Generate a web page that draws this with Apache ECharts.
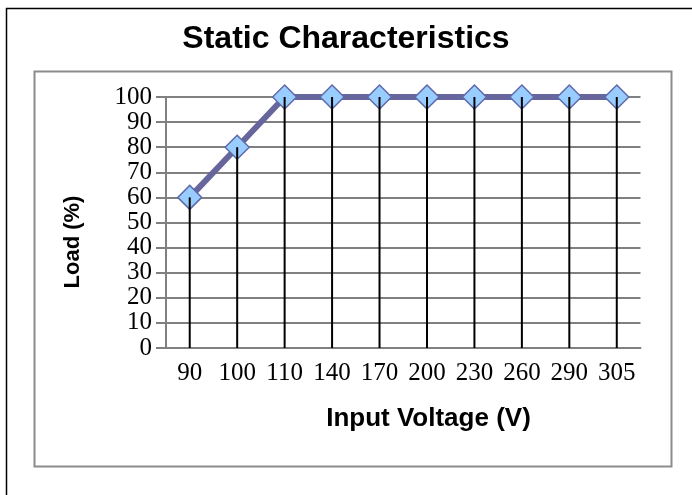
<!DOCTYPE html>
<html>
<head>
<meta charset="utf-8">
<script src="https://cdn.jsdelivr.net/npm/echarts@6/dist/echarts.min.js"></script>
<style>html,body{margin:0;padding:0;background:#fff;}#c{width:692px;height:495px;}</style>
</head>
<body>
<div id="c"></div>
<script>
var categories = ['90','100','110','140','170','200','230','260','290','305'];
var loadValues = [60, 80, 100, 100, 100, 100, 100, 100, 100, 100];
var titleText = 'Static Characteristics';
var xName = 'Input Voltage (V)';
var yName = 'Load (%)';

var chart = echarts.init(document.getElementById('c'), null, {renderer: 'canvas'});
chart.setOption({
  animation: false,
  backgroundColor: '#fff',
  title: {
    text: titleText, left: 'center', top: 18,
    textStyle: {fontFamily: 'Liberation Sans', fontWeight: 'bold', fontSize: 32, color: '#000'}
  },
  graphic: [
    {type: 'rect', left: 4, top: 6, shape: {x: 0, y: 0, width: 720, height: 520},
     style: {fill: null, stroke: '#000', lineWidth: 1.5}, silent: true},
    {type: 'rect', left: 32, top: 69, shape: {x: 0, y: 0, width: 637, height: 395},
     style: {fill: null, stroke: '#8c8c8c', lineWidth: 2}, silent: true},
    {type: 'text', x: 428.5, y: 419, silent: true,
     style: {text: xName, fontFamily: 'Liberation Sans', fontWeight: 'bold', fontSize: 26,
             fill: '#000', align: 'center', verticalAlign: 'middle'}},
    {type: 'text', x: 73, y: 242, rotation: Math.PI / 2, silent: true,
     style: {text: yName, fontFamily: 'Liberation Sans', fontWeight: 'bold', fontSize: 22,
             fill: '#000', align: 'center', verticalAlign: 'middle'}}
  ],
  grid: {left: 166, right: 51.5, top: 97, bottom: 147, containLabel: false},
  xAxis: {
    type: 'category', data: categories, boundaryGap: true,
    axisLine: {lineStyle: {color: '#808080', width: 2}},
    axisTick: {show: false},
    axisLabel: {interval: 0, hideOverlap: false, fontFamily: 'Liberation Serif', fontSize: 25, color: '#000', margin: 13},
    splitLine: {show: false}
  },
  yAxis: {
    type: 'value', min: 0, max: 100, interval: 10,
    axisLine: {show: true, lineStyle: {color: '#808080', width: 2}},
    axisTick: {show: true, length: 10, lineStyle: {color: '#808080', width: 2}},
    axisLabel: {showMinLabel: true, showMaxLabel: true, hideOverlap: false,
                fontFamily: 'Liberation Serif', fontSize: 25, color: '#000', margin: 14},
    splitLine: {show: true, lineStyle: {color: '#808080', width: 2}}
  },
  series: [
    {
      type: 'line', data: loadValues, z: 2,
      lineStyle: {color: '#66669c', width: 6},
      symbol: 'diamond', symbolSize: 24,
      itemStyle: {color: '#99ccff', borderColor: '#5f6aa8', borderWidth: 1.5}
    },
    {
      type: 'bar', data: loadValues, barWidth: 2, z: 5,
      itemStyle: {color: '#000'}, silent: true
    }
  ]
});
</script>
</body>
</html>
